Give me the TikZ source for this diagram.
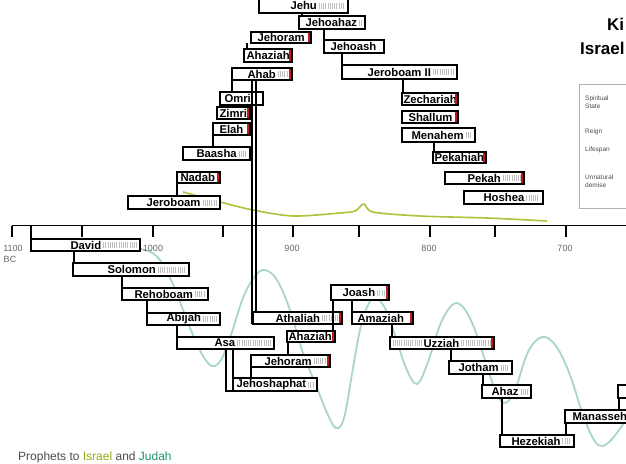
\documentclass[tikz,border=0pt]{standalone}
\usepackage{fontspec}
\setmainfont{Liberation Sans}
\definecolor{olivecol}{RGB}{178,192,60}
\definecolor{tealcol}{RGB}{168,214,204}
\definecolor{isrtext}{RGB}{150,170,20}
\definecolor{judtext}{RGB}{30,150,120}
\definecolor{redend}{RGB}{200,20,30}
\tikzset{
  kbox/.style={draw=black, fill=white, line width=1.3pt, inner sep=0pt, outer sep=0pt, rectangle},
  ktext/.style={font=\fontsize{11.3}{12}\selectfont\bfseries, inner sep=0.3pt, text=black},
  link/.style={draw=black, line width=1.3pt},
  hatchline/.style={draw=gray!50, line width=6pt, dash pattern=on 0.7pt off 1.5pt},
  axislabel/.style={font=\fontsize{9}{10}\selectfont, text=black!60, inner sep=0pt},
  legtext/.style={font=\fontsize{6.5}{7.5}\selectfont, text=black!70, inner sep=0pt, anchor=west, align=left},
  israelcurve/.style={draw=olivecol, line width=1.6pt},
  judahcurve/.style={draw=tealcol, line width=1.8pt},
}
\newcommand\kg[7]{%
  \node[kbox, anchor=north west, minimum width={(#4-#2)*1pt}, minimum height={(#5-#3)*1pt}] (#1) at (#2,#3) {};
  \node[ktext, anchor=west] (#1t) at (#7,{(#3+#5)/2}) {#6};}
\newcommand\hatchr[2][gray!50]{\draw[hatchline, draw=#1] ([xshift=1.5pt]#2t.east) -- ([xshift=-3.5pt]#2.east |- #2t.east);}
\newcommand\hatchl[1]{\draw[hatchline] ([xshift=2.5pt]#1.west |- #1t.west) -- ([xshift=-1.5pt]#1t.west);}
\newcommand\redmark[1]{\fill[redend] ([xshift=-2.6pt,yshift=-0.65pt]#1.north east) rectangle ([xshift=-0.65pt,yshift=0.65pt]#1.south east);}
\begin{document}
\begin{tikzpicture}[x=1pt,y=-1pt]
\useasboundingbox (0,0) rectangle (626,463);
\fill[white] (0,0) rectangle (626,463);
\clip (0,0) rectangle (626,463);

% spiritual-state curves
\draw[judahcurve] plot[smooth, tension=0.6] coordinates {(60,245) (110,246) (145,250) (160,260) (172,282) (183,310) (193,335) (203,356) (212,366) (221,360) (231,335) (243,298) (255,276) (265,270) (277,280) (290,310) (302,350) (317,388) (328,415) (336,428) (344,418) (353,368) (360,330) (368,305) (376,298) (386,310) (396,338) (406,368) (417,384) (428,362) (440,325) (452,305) (462,306) (473,325) (485,360) (496,392) (505,403) (515,390) (528,352) (542,337) (556,346) (570,375) (583,415) (594,440) (602,446) (612,439) (626,420)};
\draw[israelcurve] plot[smooth, tension=0.5] coordinates {(183,192) (220,202) (253,210) (293,216) (340,213) (355,211) (364,204) (373,212) (420,216) (487,218) (547,221)};

% time axis
\coordinate (axL) at (12,225.5);
\coordinate (axR) at (626,225.5);
\draw[black, line width=1.8pt] (axL) -- (axR);
\foreach \tx in {12,82,153,223,293,359,430,495,566}
  \draw[black, line width=1.1pt] (\tx,225.5) -- (\tx,237);
\node[axislabel] (l1100) at (13,248) {1100};
\node[axislabel] (lbc) at (10,259) {BC};
\node[axislabel] (l1000) at (153,248) {1000};
\node[axislabel] (l900) at (292,248) {900};
\node[axislabel] (l800) at (429,248) {800};
\node[axislabel] (l700) at (565,248) {700};

% title and legend
\node[font=\fontsize{17}{18}\selectfont\bfseries, anchor=west, inner sep=0pt] (title1) at (607,24) {Ki};
\node[font=\fontsize{17}{18}\selectfont\bfseries, anchor=west, inner sep=0pt] (title2) at (580,48) {Israel};
\draw[gray!60, line width=0.6pt] (579,84) rectangle (640,208);
\node[legtext] (lg1) at (585,102) {Spiritual\\State};
\node[legtext] (lg2) at (585,132) {Reign};
\node[legtext] (lg3) at (585,150) {Lifespan};
\node[legtext] (lg4) at (585,181) {Unnatural\\demise};

% ---- Kings of Israel ----
\kg{jehu}{259}{-2}{348}{13}{Jehu}{290}
\kg{jehoahaz}{299}{16}{365}{29}{Jehoahaz}{305}
\kg{jehoramI}{251}{32}{311}{43}{Jehoram}{257}
\kg{ahaziahI}{244}{49}{292}{62}{Ahaziah}{246}
\kg{ahab}{232}{68}{292}{80}{Ahab}{247}
\kg{omri}{220}{92}{263}{105}{Omri}{224}
\kg{zimri}{217}{107}{250}{119}{Zimri}{219}
\kg{elah}{213}{123}{250}{135}{Elah}{219}
\kg{baasha}{183}{147}{250}{160}{Baasha}{196}
\kg{nadab}{177}{172}{220}{183}{Nadab}{180}
\kg{jeroboam}{128}{196}{220}{209}{Jeroboam}{146}
\kg{jehoash}{324}{40}{384}{53}{Jehoash}{330}
\kg{jeroboamii}{342}{65}{457}{79}{Jeroboam II}{367}
\kg{zechariah}{402}{93}{458}{105}{Zechariah}{403}
\kg{shallum}{402}{111}{458}{123}{Shallum}{408}
\kg{menahem}{402}{128}{475}{142}{Menahem}{411}
\kg{pekahiah}{433}{152}{486}{163}{Pekahiah}{434}
\kg{pekah}{445}{172}{524}{184}{Pekah}{467}
\kg{hoshea}{464}{191}{543}{204}{Hoshea}{483}
\hatchr{jehu}\hatchr{jehoahaz}\hatchr{ahab}\hatchr{baasha}\hatchr{jeroboam}
\hatchr{jeroboamii}\hatchr{menahem}\hatchr{pekah}\hatchr{hoshea}
\redmark{jehoramI}\redmark{ahaziahI}\redmark{ahab}\redmark{zimri}\redmark{elah}
\redmark{nadab}\redmark{zechariah}\redmark{shallum}\redmark{pekahiah}\redmark{pekah}

% ---- Kings of Judah ----
\kg{david}{31}{239}{140}{251}{David}{70}
\kg{solomon}{73}{263}{189}{276}{Solomon}{107}
\kg{rehoboam}{122}{288}{208}{300}{Rehoboam}{134}
\kg{abijah}{147}{313}{220}{325}{Abijah}{166}
\kg{asa}{177}{337}{274}{349}{Asa}{214}
\kg{jehoshaphat}{233}{378}{317}{391}{Jehoshaphat}{236}
\kg{jehoramJ}{251}{355}{330}{367}{Jehoram}{264}
\kg{ahaziahJ}{287}{331}{335}{342}{Ahaziah}{288}
\kg{athaliah}{253}{312}{342}{324}{Athaliah}{275}
\kg{joash}{331}{285}{389}{300}{Joash}{342}
\kg{amaziah}{352}{312}{413}{324}{Amaziah}{357}
\kg{uzziah}{390}{337}{494}{349}{Uzziah}{423}
\kg{jotham}{449}{361}{512}{374}{Jotham}{458}
\kg{ahaz}{482}{385}{531}{398}{Ahaz}{491}
\kg{hezekiah}{500}{435}{574}{447}{Hezekiah}{511}
\kg{manasseh}{565}{410}{660}{423}{Manasseh}{572}
\node[kbox, anchor=north west, minimum width=30pt, minimum height=13pt] (nextking) at (618,385) {};
\hatchr{david}\hatchr{solomon}\hatchr{rehoboam}\hatchr{abijah}\hatchr{asa}
\hatchr{jehoshaphat}\hatchr{jehoramJ}\hatchr{athaliah}\hatchr[tealcol]{joash}
\hatchl{uzziah}\hatchr{uzziah}\hatchr{jotham}\hatchr{ahaz}\hatchr{hezekiah}
\redmark{jehoramJ}\redmark{ahaziahJ}\redmark{athaliah}\redmark{joash}\redmark{amaziah}\redmark{uzziah}

% ---- succession links, Israel ----
\draw[link] (nadab.south west) -- (nadab.south west |- jeroboam.north);
\draw[link] (elah.south west) -- (elah.south west |- baasha.north);
\draw[link] (ahab.south west) -- (ahab.south west |- omri.north);
\draw[link] ([xshift=3pt]ahaziahI.north west) -- ([xshift=3pt]ahaziahI.north west |- jehoramI.south);
\draw[link] ([xshift=3pt]jehoahaz.north west) -- ([xshift=3pt]jehoahaz.north west |- jehu.south);
\draw[link] (jehoash.north west) -- (jehoash.north west |- jehoahaz.south);
\draw[link] (jeroboamii.north west) -- (jeroboamii.north west |- jehoash.south);
\draw[link] ([xshift=1pt]zechariah.north west) -- ([xshift=1pt]zechariah.north west |- jeroboamii.south);
\draw[link] ([xshift=1pt]pekahiah.north west) -- ([xshift=1pt]pekahiah.north west |- menahem.south);
% Ahab to Athaliah (double line)
\draw[link] ([xshift=-1pt]athaliah.south west) -- ([xshift=-1pt]athaliah.south west |- ahab.south);
\draw[link] ([xshift=3pt]athaliah.north west) -- ([xshift=3pt]athaliah.north west |- ahab.south);

% ---- succession links, Judah ----
\draw[link] (david.north west) -- (david.north west |- axL);
\draw[link] ([xshift=1pt]solomon.north west) -- ([xshift=1pt]solomon.north west |- david.south);
\draw[link] (rehoboam.north west) -- (rehoboam.north west |- solomon.south);
\draw[link] (abijah.north west) -- (abijah.north west |- rehoboam.south);
\draw[link] (asa.north west) -- (asa.north west |- abijah.south);
\draw[link] (jehoshaphat.north west) -- (jehoshaphat.north west |- asa.south);
\draw[link] ([xshift=-7pt]jehoshaphat.north west |- asa.south) -- ([xshift=-7pt]jehoshaphat.south west) -- (jehoshaphat.south west);
\draw[link] (jehoramJ.south west) -- (jehoramJ.south west |- jehoshaphat.north);
\draw[link] ([xshift=1pt]ahaziahJ.south west) -- ([xshift=1pt]ahaziahJ.south west |- jehoramJ.north);
\draw[link] ([xshift=2pt]joash.south west) -- ([xshift=2pt]joash.south west |- ahaziahJ.north);
\draw[link] (amaziah.north west) -- (amaziah.north west |- joash.south);
\draw[link] ([xshift=2pt]uzziah.north west) -- ([xshift=2pt]uzziah.north west |- amaziah.south);
\draw[link] ([xshift=2pt]jotham.north west) -- ([xshift=2pt]jotham.north west |- uzziah.south);
\draw[link] ([xshift=1pt]ahaz.north west) -- ([xshift=1pt]ahaz.north west |- jotham.south);
\draw[link] ([xshift=2pt]hezekiah.north west) -- ([xshift=2pt]hezekiah.north west |- ahaz.south);
\draw[link] ([xshift=1pt]manasseh.south west) -- ([xshift=1pt]manasseh.south west |- hezekiah.north);
\draw[link] ([xshift=1pt]nextking.south west) -- ([xshift=1pt]nextking.south west |- manasseh.north);

% footer
\node[font=\fontsize{12}{13}\selectfont, text=black!70, anchor=west, inner sep=0pt] (prophets) at (18,457)
  {Prophets to \textcolor{isrtext}{Israel} and \textcolor{judtext}{Judah}};
\end{tikzpicture}
\end{document}
